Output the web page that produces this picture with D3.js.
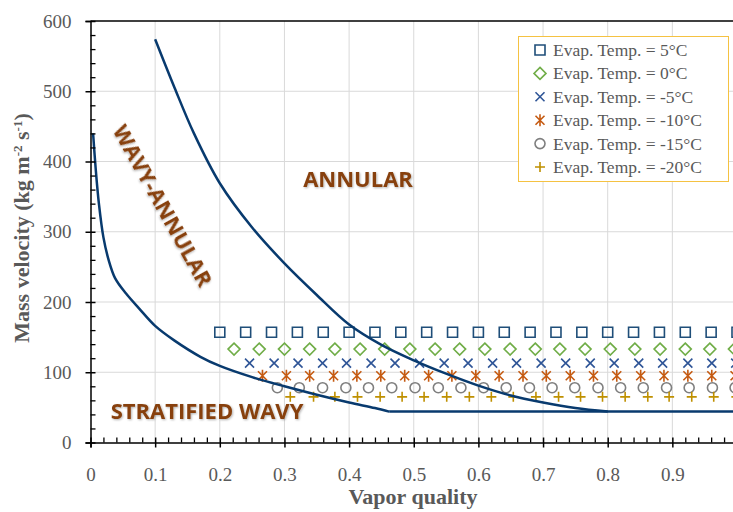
<!DOCTYPE html>
<html lang="en-US">
<head>
<meta charset="UTF-8">
<title>Flow pattern map</title>
<style>
  body {margin: 0; background: #fff;}
  svg {display: block;}
  .tick text {fill: #595959; font-family: "Liberation Serif", serif; font-size: 19px;}
  .grid line {stroke: #d9d9d9; stroke-width: 1px;}
  .region {fill: #87410f; font-family: "Open Sans", sans-serif; font-weight: bold; font-size: 22px;}
  .title {fill: #595959; font-family: "Liberation Serif", serif; font-weight: bold; font-size: 22px;}
  .legend text {fill: #595959; font-family: "Liberation Serif", serif; font-size: 17.5px;}
</style>
</head>
<body>
<div id="viz"></div>
<script src="https://d3js.org/d3.v7.min.js"></script>
<script>

var width = 733,
    height = 512;

// axes
var xTicks = [0, 0.1, 0.2, 0.3, 0.4, 0.5, 0.6, 0.7, 0.8, 0.9, 1];
var xTickLabels = ["0", "0.1", "0.2", "0.3", "0.4", "0.5", "0.6", "0.7", "0.8", "0.9", "1"];
var yTicks = [0, 100, 200, 300, 400, 500, 600];

// region boundaries
var leftCurveX = [0.004, 0.008, 0.013, 0.02, 0.028, 0.038, 0.055, 0.075, 0.1, 0.13, 0.17, 0.2, 0.25, 0.3, 0.35, 0.4, 0.44, 0.462];
var leftCurveY = [440, 390, 340, 292, 260, 234, 212, 191, 166, 145, 122, 109, 93, 80, 68, 57, 49, 44];
var flatX = [0.462, 1.0];
var flatY = [44, 44];
var midCurveX = [0.1, 0.13, 0.16, 0.2, 0.25, 0.3, 0.35, 0.4, 0.45, 0.5, 0.55, 0.6, 0.65, 0.7, 0.75, 0.8];
var midCurveY = [574, 505, 440, 369, 306, 255, 210, 168, 139, 117, 98, 81, 67, 57, 49, 44];

// experimental points, one array per evaporation temperature
var seriesNames = ["Evap. Temp. = 5°C", "Evap. Temp. = 0°C", "Evap. Temp. = -5°C",
                   "Evap. Temp. = -10°C", "Evap. Temp. = -15°C", "Evap. Temp. = -20°C"];
var seriesG = [157, 133, 113, 95, 78, 65];
var x5 = [0.200, 0.240, 0.280, 0.320, 0.360, 0.400, 0.440, 0.480, 0.520, 0.560, 0.600, 0.640, 0.680, 0.720, 0.760, 0.800, 0.840, 0.880, 0.920, 0.960, 1.000];
var x0 = [0.222, 0.261, 0.300, 0.339, 0.378, 0.417, 0.455, 0.494, 0.533, 0.571, 0.610, 0.649, 0.688, 0.726, 0.765, 0.804, 0.842, 0.881, 0.920, 0.958, 0.996];
var xm5 = [0.246, 0.284, 0.321, 0.359, 0.396, 0.434, 0.471, 0.509, 0.547, 0.584, 0.622, 0.659, 0.697, 0.735, 0.773, 0.810, 0.848, 0.885, 0.924, 0.961, 0.998];
var xm10 = [0.266, 0.303, 0.339, 0.376, 0.412, 0.449, 0.486, 0.523, 0.559, 0.596, 0.632, 0.669, 0.705, 0.742, 0.778, 0.814, 0.851, 0.887, 0.924, 0.961, 0.997];
var xm15 = [0.289, 0.323, 0.359, 0.395, 0.430, 0.466, 0.502, 0.538, 0.573, 0.608, 0.643, 0.679, 0.714, 0.749, 0.785, 0.820, 0.855, 0.891, 0.926, 0.962, 0.997];
var xm20 = [0.309, 0.345, 0.378, 0.413, 0.448, 0.482, 0.516, 0.551, 0.586, 0.620, 0.654, 0.689, 0.724, 0.758, 0.792, 0.827, 0.862, 0.895, 0.930, 0.964, 0.999];
var seriesX = [x5, x0, xm5, xm10, xm15, xm20];
var seriesShape = ["square", "diamond", "x", "star", "circle", "plus"];
var seriesColor = ["#1f4e79", "#70ad47", "#2f5597", "#c55a11", "#7f7f7f", "#bf9000"];

var x = d3.scaleLinear().domain([0, 1]).range([90.5, 737]);
var y = d3.scaleLinear().domain([0, 600]).range([442.5, 21]);

var svg = d3.select("#viz").append("svg")
    .attr("width", width)
    .attr("height", height);

var defs = svg.append("defs");
var shadow = defs.append("filter").attr("id", "shadow")
    .attr("x", "-10%").attr("y", "-20%").attr("width", "120%").attr("height", "140%");
shadow.append("feDropShadow")
    .attr("dx", 1).attr("dy", 1).attr("stdDeviation", 1)
    .attr("flood-color", "#000").attr("flood-opacity", 0.3);

// gridlines
svg.append("g").attr("class", "grid")
    .selectAll("line").data(xTicks.slice(1))
    .enter().append("line")
    .attr("x1", function(d) { return x(d); })
    .attr("x2", function(d) { return x(d); })
    .attr("y1", y(0)).attr("y2", y(600));

svg.append("g").attr("class", "grid")
    .selectAll("line").data(yTicks.slice(1, -1))
    .enter().append("line")
    .attr("y1", function(d) { return y(d); })
    .attr("y2", function(d) { return y(d); })
    .attr("x1", x(0)).attr("x2", width);

// top border
svg.append("line")
    .attr("x1", x(0)).attr("x2", width)
    .attr("y1", y(600)).attr("y2", y(600))
    .attr("stroke", "#000").attr("stroke-width", 1.5);

// markers
function markerPath(shape) {
    switch (shape) {
        case "square": return "M-5,-5H5V5H-5Z";
        case "diamond": return "M0,-6L6,0L0,6L-6,0Z";
        case "x": return "M-4.5,-4.5L4.5,4.5M-4.5,4.5L4.5,-4.5";
        case "star": return "M-4.5,-4.5L4.5,4.5M-4.5,4.5L4.5,-4.5M0,-6V6";
        case "circle": return "M5,0A5,5 0 1,1 -5,0A5,5 0 1,1 5,0Z";
        case "plus": return "M-5,0H5M0,-5V5";
    }
}

seriesX.forEach(function(xs, i) {
    svg.append("g")
        .selectAll("path")
        .data(xs)
        .enter().append("path")
        .attr("d", markerPath(seriesShape[i]))
        .attr("transform", function(d) { return "translate(" + x(d) + "," + y(seriesG[i]) + ")"; })
        .attr("fill", "none")
        .attr("stroke", seriesColor[i])
        .attr("stroke-width", 1.6);
});

// boundary curves
var line = d3.line()
    .x(function(d) { return x(d[0]); })
    .y(function(d) { return y(d[1]); })
    .curve(d3.curveCatmullRom.alpha(0.5));

[[leftCurveX, leftCurveY], [flatX, flatY], [midCurveX, midCurveY]].forEach(function(c) {
    svg.append("path")
        .datum(d3.zip(c[0], c[1]))
        .attr("d", line)
        .attr("fill", "none")
        .attr("stroke", "#083a6e")
        .attr("stroke-width", 2.5)
        .attr("stroke-linejoin", "round");
});

// region labels
svg.append("text").attr("class", "region")
    .attr("x", 358).attr("y", 178)
    .attr("text-anchor", "middle").attr("dominant-baseline", "central")
    .attr("filter", "url(#shadow)")
    .text("ANNULAR");

svg.append("text").attr("class", "region")
    .attr("transform", "translate(164,205) rotate(61)")
    .attr("text-anchor", "middle").attr("dominant-baseline", "central")
    .attr("filter", "url(#shadow)")
    .text("WAVY-ANNULAR");

svg.append("text").attr("class", "region")
    .attr("x", 207).attr("y", 410)
    .attr("text-anchor", "middle").attr("dominant-baseline", "central")
    .attr("filter", "url(#shadow)")
    .text("STRATIFIED WAVY");

// axes
var xAxis = svg.append("g")
    .attr("transform", "translate(0," + y(0) + ")")
    .call(d3.axisBottom(x).tickValues(xTicks).tickSize(5).tickPadding(20)
        .tickFormat(function(d, i) { return xTickLabels[i]; }));
xAxis.selectAll(".tick line").attr("y1", -5).attr("stroke-width", 1.5);
xAxis.select(".domain").attr("stroke-width", 1.5);

var xMinor = d3.range(0, 50).map(function(i) { return i * 0.02; }).filter(function(d, i) { return i % 5 !== 0; });
svg.append("g")
    .attr("transform", "translate(0," + y(0) + ")")
    .call(d3.axisBottom(x).tickValues(xMinor).tickSize(-5).tickFormat(""))
    .call(function(g) { g.select(".domain").remove(); })
    .selectAll(".tick line").attr("stroke-width", 1.3);

var yAxis = svg.append("g")
    .attr("transform", "translate(" + x(0) + ",0)")
    .call(d3.axisLeft(y).tickValues(yTicks).tickSize(5).tickPadding(14));
yAxis.selectAll(".tick line").attr("x1", 5).attr("stroke-width", 1.5);
yAxis.select(".domain").attr("stroke-width", 1.5);

var yMinor = d3.range(0, 30).map(function(i) { return i * 20; }).filter(function(d, i) { return i % 5 !== 0; });
svg.append("g")
    .attr("transform", "translate(" + x(0) + ",0)")
    .call(d3.axisLeft(y).tickValues(yMinor).tickSize(-5).tickFormat(""))
    .call(function(g) { g.select(".domain").remove(); })
    .selectAll(".tick line").attr("stroke-width", 1.3);

// axis titles
svg.append("text").attr("class", "title")
    .attr("x", 413).attr("y", 504)
    .attr("text-anchor", "middle")
    .text("Vapor quality");

var yTitle = svg.append("text").attr("class", "title")
    .attr("transform", "translate(29,228) rotate(-90)")
    .attr("text-anchor", "middle");
yTitle.append("tspan").text("Mass velocity (kg m");
yTitle.append("tspan").attr("dy", -7).attr("font-size", "13px").text("-2");
yTitle.append("tspan").attr("dy", 7).text(" s");
yTitle.append("tspan").attr("dy", -7).attr("font-size", "13px").text("-1");
yTitle.append("tspan").attr("dy", 7).text(")");

// legend
var legend = svg.append("g").attr("class", "legend");
legend.append("rect")
    .attr("x", 518.5).attr("y", 36.5)
    .attr("width", 210).attr("height", 145)
    .attr("fill", "#fff").attr("stroke", "#f5c242").attr("stroke-width", 1);

seriesNames.forEach(function(name, i) {
    var ly = 50 + i * 23.4;
    legend.append("path")
        .attr("d", markerPath(seriesShape[i]))
        .attr("transform", "translate(540," + ly + ")")
        .attr("fill", "none")
        .attr("stroke", seriesColor[i])
        .attr("stroke-width", 1.6);
    legend.append("text")
        .attr("x", 553).attr("y", ly)
        .attr("dominant-baseline", "central")
        .text(name);
});

</script>
</body>
</html>
